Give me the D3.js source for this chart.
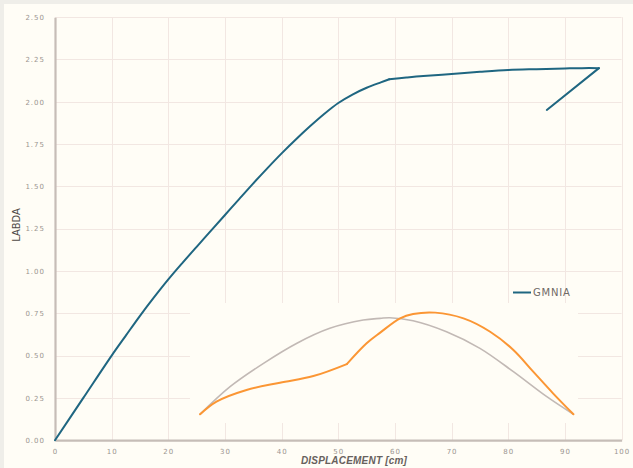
<!DOCTYPE html>
<html>
<head>
<meta charset="utf-8">
<script src="https://cdn.jsdelivr.net/npm/d3@7"></script>
<style>
  html, body { margin: 0; padding: 0; background: #efeee9; }
  svg { display: block; }
</style>
</head>
<body>
<svg id="chart" width="633" height="468"></svg>
<script>
// Axis ticks
const xTicks = [0, 10, 20, 30, 40, 50, 60, 70, 80, 90, 100];
const yTicks = [0, 0.25, 0.5, 0.75, 1.0, 1.25, 1.5, 1.75, 2.0, 2.25, 2.5];

// GMNIA load-displacement path (displacement in cm, load factor)
const gmniaX = [0, 5, 10, 12.5, 15, 17.5, 20, 22.5, 25, 27.5, 30, 32.5, 35, 37.5, 40, 42.5, 45, 47.5, 50, 52.5, 55, 57.5, 59, 62, 65, 70, 75, 80, 85, 90, 93, 96, 86.8];
const gmniaY = [0, 0.25, 0.50, 0.618, 0.735, 0.845, 0.95, 1.048, 1.143, 1.237, 1.331, 1.425, 1.518, 1.608, 1.695, 1.777, 1.855, 1.928, 1.993, 2.043, 2.083, 2.115, 2.133, 2.143, 2.152, 2.164, 2.177, 2.188, 2.193, 2.197, 2.199, 2.199, 1.952];
// indices where the path changes character (end of pre-buckling branch, peak)
const gmniaBreaks = [22, 31];

// Imperfection shapes shown in the lower panel
const shapeAX = [25.6, 28.5, 33.8, 39.7, 45.6, 51.5, 55.0, 57.4, 60.9, 63.2, 67.1, 72.1, 76.8, 80.9, 84.4, 87.9, 91.5];
const shapeAY = [0.153, 0.228, 0.297, 0.340, 0.379, 0.450, 0.573, 0.636, 0.720, 0.746, 0.754, 0.720, 0.641, 0.533, 0.405, 0.277, 0.153];
const shapeBX = [25.6, 30.9, 36.8, 42.7, 48.5, 54.4, 57.4, 59.1, 63.2, 69.1, 75.0, 80.9, 86.8, 91.5];
const shapeBY = [0.153, 0.316, 0.454, 0.573, 0.661, 0.710, 0.720, 0.724, 0.706, 0.641, 0.543, 0.405, 0.257, 0.153];

const W = 633, H = 468;
const margin = { left: 55, right: 11.4, top: 17.2, bottom: 27.8 };
const svg = d3.select("#chart");

// page frame and plot background
svg.append("rect").attr("x", 4).attr("y", 4).attr("width", W - 4).attr("height", H - 4)
  .attr("fill", "#fffdf6");

const x = d3.scaleLinear().domain([0, 100]).range([margin.left, W - margin.right]);
const y = d3.scaleLinear().domain([0, 2.5]).range([H - margin.bottom, margin.top]);

// grid
const grid = svg.append("g").attr("stroke", "#f2e7e2").attr("stroke-width", 1);
grid.selectAll("line.v").data(xTicks.slice(1)).join("line")
  .attr("x1", d => Math.round(x(d)) + 0.5).attr("x2", d => Math.round(x(d)) + 0.5)
  .attr("y1", y(2.5)).attr("y2", y(0));
grid.selectAll("line.h").data(yTicks.slice(1)).join("line")
  .attr("x1", x(0)).attr("x2", x(100))
  .attr("y1", d => Math.round(y(d)) + 0.5).attr("y2", d => Math.round(y(d)) + 0.5);

// lower panel backdrop
svg.append("rect").attr("x", 190).attr("y", 303).attr("width", 388).attr("height", 120)
  .attr("fill", "#fffdf6");

// axes
const axisColor = "#c6bdb7";
const xAxis = svg.append("g").attr("transform", `translate(0,${y(0)})`)
  .call(d3.axisBottom(x).tickValues(xTicks).tickSize(0).tickPadding(9).tickFormat(d3.format("d")));
const yAxis = svg.append("g").attr("transform", `translate(${x(0)},0)`)
  .call(d3.axisLeft(y).tickValues(yTicks).tickSize(0).tickPadding(10).tickFormat(d3.format(".2f")));
[xAxis, yAxis].forEach(a => {
  a.select(".domain").attr("stroke", axisColor).attr("stroke-width", 2.2);
  a.selectAll("text")
    .attr("fill", "#9b9590")
    .attr("font-family", "DejaVu Sans, sans-serif")
    .attr("font-size", 7)
    .attr("letter-spacing", 1);
});

// series
const pts = (xs, ys) => d3.zip(xs, ys);
const smooth = d3.line().x(d => x(d[0])).y(d => y(d[1])).curve(d3.curveCatmullRom.alpha(0.5));
const straight = d3.line().x(d => x(d[0])).y(d => y(d[1]));

svg.append("path").datum(pts(shapeBX, shapeBY))
  .attr("d", smooth).attr("fill", "none")
  .attr("stroke", "#c2b9b5").attr("stroke-width", 1.6);

// orange shape: smooth on each side of the kink at index 5
const kA = 5;
const orange = svg.append("g").attr("fill", "none").attr("stroke", "#fb9634")
  .attr("stroke-width", 2).attr("stroke-linejoin", "round").attr("stroke-linecap", "round");
orange.append("path").datum(pts(shapeAX, shapeAY).slice(0, kA + 1)).attr("d", smooth);
orange.append("path").datum(pts(shapeAX, shapeAY).slice(kA)).attr("d", smooth);

const gm = pts(gmniaX, gmniaY);
const blue = svg.append("g").attr("fill", "none").attr("stroke", "#1f6681")
  .attr("stroke-width", 2).attr("stroke-linejoin", "round").attr("stroke-linecap", "round");
blue.append("path").datum(gm.slice(0, gmniaBreaks[0] + 1)).attr("d", smooth);
blue.append("path").datum(gm.slice(gmniaBreaks[0], gmniaBreaks[1] + 1)).attr("d", smooth);
blue.append("path").datum(gm.slice(gmniaBreaks[1])).attr("d", straight);

// legend
const lg = svg.append("g").attr("transform", "translate(513,292.5)");
lg.append("line").attr("x1", 0).attr("x2", 18).attr("y1", 0).attr("y2", 0)
  .attr("stroke", "#1f6681").attr("stroke-width", 2);
lg.append("text").attr("x", 20).attr("y", 0).attr("dy", "0.35em")
  .attr("fill", "#6f6a66").attr("font-family", "DejaVu Sans, sans-serif")
  .attr("font-size", 10).attr("letter-spacing", 0.8).text("GMNIA");

// axis titles
svg.append("text").attr("x", 354).attr("y", 464).attr("text-anchor", "middle")
  .attr("fill", "#67615d").attr("font-family", "Liberation Sans, Arial, sans-serif")
  .attr("font-size", 10).attr("font-weight", "bold").attr("font-style", "italic")
  .attr("letter-spacing", 0.2)
  .text("DISPLACEMENT [cm]");
svg.append("text").attr("transform", "translate(19.5,225) rotate(-90)").attr("text-anchor", "middle")
  .attr("fill", "#4f4a47").attr("font-family", "Liberation Sans Narrow, DejaVu Sans Condensed, sans-serif")
  .attr("font-size", 11).text("LABDA");
</script>
</body>
</html>
